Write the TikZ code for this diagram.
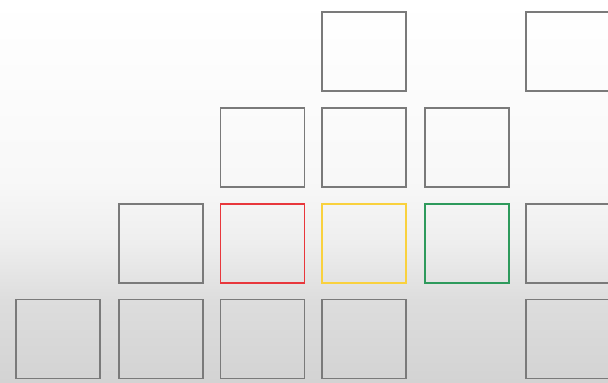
\documentclass[tikz,border=0pt]{standalone}
\usepackage{tikz}
\definecolor{boxgray}{HTML}{7A7A7A}
\definecolor{boxred}{HTML}{E8373C}
\definecolor{boxyellow}{HTML}{F9D13E}
\definecolor{boxgreen}{HTML}{2E9A5C}
\definecolor{bgA}{HTML}{D3D3D3}
\definecolor{bgB}{HTML}{DDDDDD}
\definecolor{bgC}{HTML}{EEEEEE}
\definecolor{bgD}{HTML}{F8F8F8}
\pgfdeclareverticalshading{bgshade}{100bp}{color(0bp)=(bgA); color(25bp)=(bgA); color(35.8bp)=(bgB); color(43.3bp)=(bgC); color(51.5bp)=(bgD); color(75bp)=(white); color(100bp)=(white)}
\tikzset{
  tile/.style={draw=boxgray, line width=1.5pt, minimum width=84pt, minimum height=79pt, inner sep=0pt},
  redtile/.style={tile, draw=boxred},
  yellowtile/.style={tile, draw=boxyellow},
  greentile/.style={tile, draw=boxgreen}
}
\begin{document}
\begin{tikzpicture}[x=1pt,y=-1pt]
\useasboundingbox (0,0) rectangle (608,383);
\clip (0,0) rectangle (608,383);
\shade[shading=bgshade] (0,0) rectangle (608,383);
% row 1
\node[tile] (r1c4) at (364,51.7) {};
\node[tile] (r1c6) at (568,51.7) {};
% row 2
\node[tile] (r2c3) at (262.4,147.3) {};
\node[tile] (r2c4) at (364,147.3) {};
\node[tile] (r2c5) at (466.9,147.3) {};
% row 3
\node[tile] (r3c2) at (161,243.3) {};
\node[redtile] (r3c3) at (262.4,243.3) {};
\node[yellowtile] (r3c4) at (364,243.3) {};
\node[greentile] (r3c5) at (466.9,243.3) {};
\node[tile] (r3c6) at (568,243.3) {};
% row 4
\node[tile] (r4c1) at (58,339.2) {};
\node[tile] (r4c2) at (161,339.2) {};
\node[tile] (r4c3) at (262.4,339.2) {};
\node[tile] (r4c4) at (364,339.2) {};
\node[tile] (r4c6) at (568,339.2) {};
\end{tikzpicture}
\end{document}
